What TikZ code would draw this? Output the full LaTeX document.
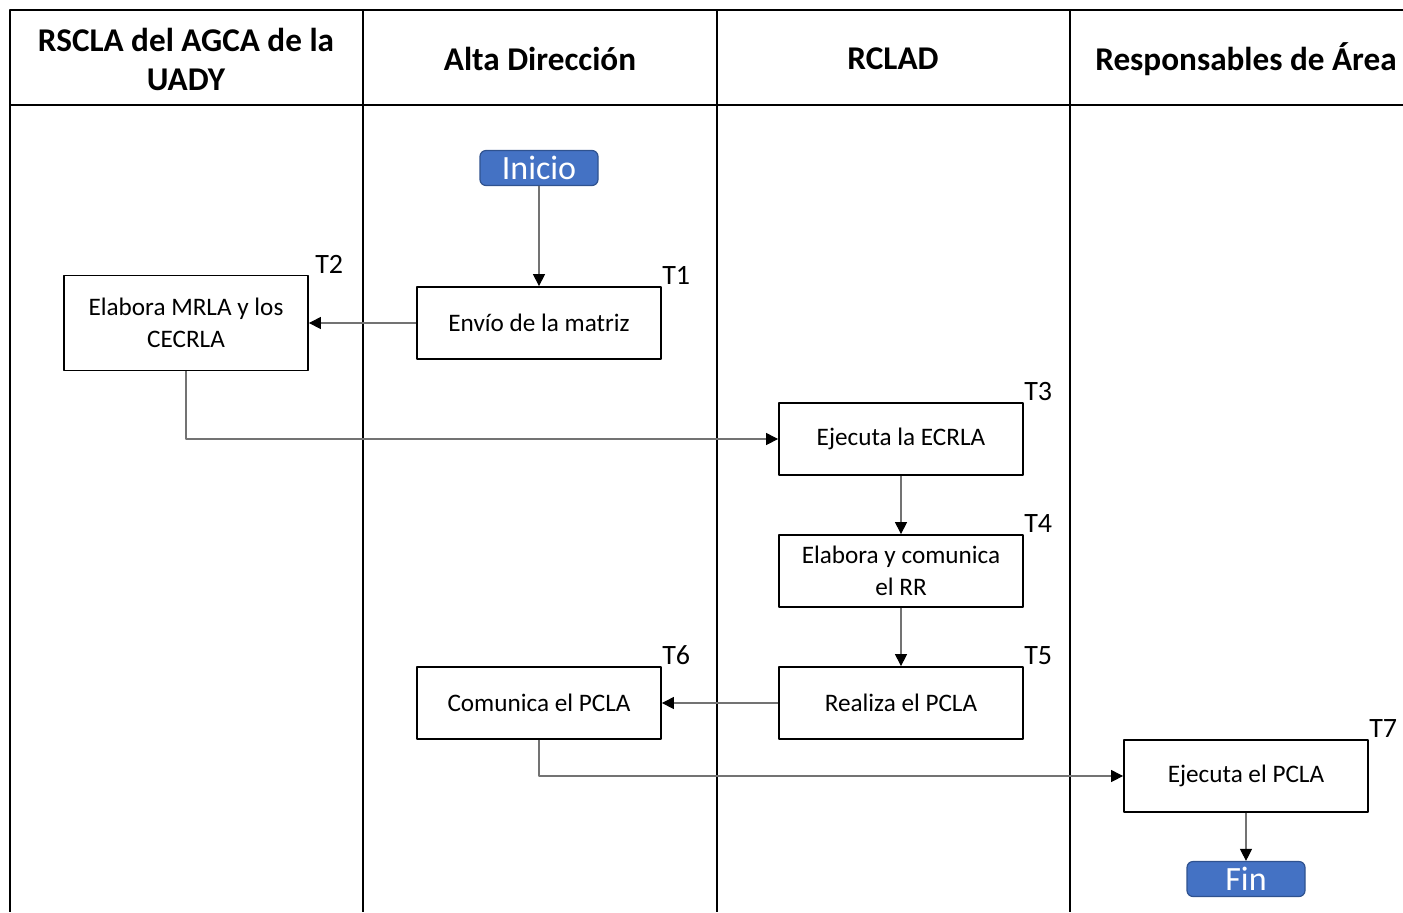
\documentclass[tikz,border=0pt]{standalone}
\usepackage{fontspec}
\setmainfont{Carlito}
\usetikzlibrary{arrows.meta}
\definecolor{startblue}{HTML}{4472C4}
\definecolor{startedge}{HTML}{2F528F}
\begin{document}
\begin{tikzpicture}[x=0.5pt,y=-0.5pt, line join=round,
    lane/.style={line width=1pt},
    head/.style={font=\fontsize{16.6}{19.5}\selectfont\bfseries, align=center},
    task/.style={draw, line width=0.9pt, fill=white, minimum width=122pt, minimum height=36pt,
        inner sep=2pt, align=center, font=\fontsize{12.6}{16}\selectfont},
    tag/.style={anchor=south west, inner sep=0.5pt, xshift=-0.5pt, font=\fontsize{14}{16}\selectfont},
    term/.style={draw=startedge, fill=startblue, text=white, rounded corners=3pt, line width=0.6pt,
        minimum width=59pt, minimum height=17.5pt, inner sep=0pt, font=\fontsize{17}{18}\selectfont},
    flow/.style={draw=black!55, line width=0.55pt, -{Triangle[width=6pt,length=6pt,color=black]}}]
    \def\ytop{10} \def\yhead{105} \def\ybot{912}
    \useasboundingbox (0,0) rectangle (1403,912);
    % lanes
    \draw[lane] (1403,\ytop)--(10,\ytop)--(10,\ybot);
    \draw[lane] (10,\yhead)--(1403,\yhead);
    \foreach \x in {363,717,1070} \draw[lane] (\x,\ytop)--(\x,\ybot);
    \node[head] (h1) at (186,59) {RSCLA del AGCA de la\\UADY};
    \node[head] (h2) at (540,59) {Alta Dirección};
    \node[head] (h3) at (893,59) {RCLAD};
    \node[head] (h4) at (1246,59) {Responsables de Área};
    % tasks
    \node[term] (ini) at (539,168) {Inicio};
    \node[task] (t1) at (539,323) {Envío de la matriz};
    \node[task, minimum height=47.5pt] (t2) at (186,323) {Elabora MRLA y los\\CECRLA};
    \node[task] (t3) at (901,439) {Ejecuta la ECRLA};
    \node[task] (t4) at (901,571) {Elabora y comunica\\el RR};
    \node[task] (t5) at (901,703) {Realiza el PCLA};
    \node[task] (t6) at (539,703) {Comunica el PCLA};
    \node[task] (t7) at (1246,776) {Ejecuta el PCLA};
    \node[term] (fin) at (1246,879) {Fin};
    \foreach \n/\t in {t1/T1,t3/T3,t4/T4,t5/T5,t6/T6,t7/T7}
        \node[tag] at (\n.north east) {\t};
    \node[tag, xshift=3pt] at (t2.north east) {T2};
    % connectors
    \draw[flow] (ini)--(t1);
    \draw[flow] (t1)--(t2);
    \draw[flow] (t2.south)|-(t3.west);
    \draw[flow] (t3)--(t4);
    \draw[flow] (t4)--(t5);
    \draw[flow] (t5)--(t6);
    \draw[flow] (t6.south)|-(t7.west);
    \draw[flow] (t7)--(fin);
\end{tikzpicture}
\end{document}
